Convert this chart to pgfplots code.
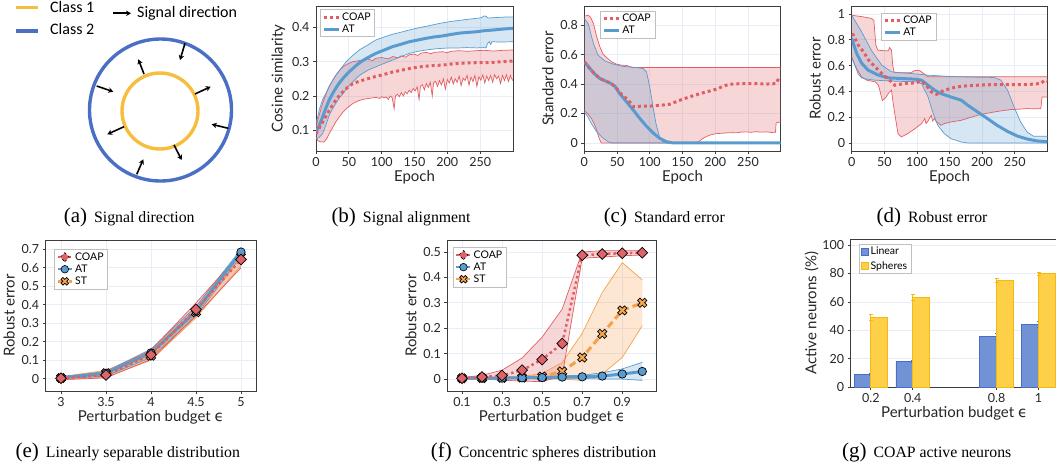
\documentclass[border=0pt]{standalone}
\usepackage{fontspec}
\setmainfont{Lato}
\newfontfamily\capfont{Liberation Serif}
\newfontfamily\carl{Carlito}
\newfontfamily\dejavu{DejaVu Sans}
\usepackage{pgfplots}
\pgfplotsset{compat=1.18}
\usepgfplotslibrary{fillbetween}
\usetikzlibrary{arrows.meta}

\definecolor{coapred}{RGB}{225,93,98}
\definecolor{atblue}{RGB}{90,155,207}
\definecolor{storange}{RGB}{247,160,75}
\definecolor{coapmk}{RGB}{222,100,106}
\definecolor{atmk}{RGB}{90,155,210}
\definecolor{stmk}{RGB}{247,165,80}
\definecolor{linfill}{RGB}{114,146,214}
\definecolor{linedge}{RGB}{70,110,200}
\definecolor{sphfill}{RGB}{253,208,72}
\definecolor{sphedge}{RGB}{245,185,20}
\definecolor{gridc}{RGB}{232,238,247}
\definecolor{framec}{RGB}{60,60,60}
\definecolor{yel}{RGB}{246,190,62}
\definecolor{cblue}{RGB}{74,111,196}

\newcommand{\eps}{{\dejavu ϵ}}

\pgfdeclareplotmark{fatx}{%
 \pgfpathmoveto{\pgfqpoint{0pt}{0.5\pgfplotmarksize}}%
 \pgfpathlineto{\pgfqpoint{0.5\pgfplotmarksize}{\pgfplotmarksize}}%
 \pgfpathlineto{\pgfqpoint{\pgfplotmarksize}{0.5\pgfplotmarksize}}%
 \pgfpathlineto{\pgfqpoint{0.5\pgfplotmarksize}{0pt}}%
 \pgfpathlineto{\pgfqpoint{\pgfplotmarksize}{-0.5\pgfplotmarksize}}%
 \pgfpathlineto{\pgfqpoint{0.5\pgfplotmarksize}{-\pgfplotmarksize}}%
 \pgfpathlineto{\pgfqpoint{0pt}{-0.5\pgfplotmarksize}}%
 \pgfpathlineto{\pgfqpoint{-0.5\pgfplotmarksize}{-\pgfplotmarksize}}%
 \pgfpathlineto{\pgfqpoint{-\pgfplotmarksize}{-0.5\pgfplotmarksize}}%
 \pgfpathlineto{\pgfqpoint{-0.5\pgfplotmarksize}{0pt}}%
 \pgfpathlineto{\pgfqpoint{-\pgfplotmarksize}{0.5\pgfplotmarksize}}%
 \pgfpathlineto{\pgfqpoint{-0.5\pgfplotmarksize}{\pgfplotmarksize}}%
 \pgfpathclose
 \pgfusepathqfillstroke}

\pgfplotsset{
 base/.style={scale only axis, anchor=south west,
   axis line style={draw=framec,line width=0.9pt},
   tick style={draw=framec,line width=0.7pt},
   tick align=outside, major tick length=3pt,
   xtick pos=bottom, ytick pos=left,
   major grid style={draw=gridc,line width=0.8pt},
   ticklabel style={font=\fontsize{12.5}{13}\selectfont, text=black!85},
   label style={font=\fontsize{15}{16}\selectfont, text=black!85},
   xlabel shift=-3pt,
   /pgf/number format/assume math mode=true,
   legend style={font=\fontsize{10.5}{11}\selectfont, draw=black!25, line width=0.5pt,
     inner xsep=2pt, inner ysep=1pt, row sep=-1pt, anchor=north west},
   legend cell align=left},
 band/.style={line width=0.7pt, forget plot},
 coapmean/.style={coapred, line width=3pt, dash pattern=on 3pt off 3pt,
   legend image code/.code={\draw[coapred, line width=3pt, dash pattern=on 3pt off 3pt] (0pt,0pt) -- (15pt,0pt);}},
 atmean/.style={atblue, line width=3pt,
   legend image code/.code={\draw[atblue, line width=3pt] (0pt,0pt) -- (15pt,0pt);}},
 coapm/.style={coapred, line width=2.5pt, dash pattern=on 2.5pt off 3pt,
   mark=square*, mark size=3.8pt, mark options={rotate=45, fill=coapmk, draw=black, line width=0.7pt, solid},
   legend image code/.code={\draw[coapred, line width=2.5pt] (0pt,0pt) -- (14pt,0pt); \draw[fill=coapmk, draw=black, line width=0.6pt] (7pt,-4.5pt) -- (11.5pt,0pt) -- (7pt,4.5pt) -- (2.5pt,0pt) -- cycle;}},
 atm/.style={atblue, line width=3pt, mark=*, mark size=4.2pt, mark options={fill=atmk, draw=black, line width=0.7pt, solid},
   legend image code/.code={\draw[atblue, line width=2.5pt] (0pt,0pt) -- (14pt,0pt); \draw[fill=atmk, draw=black, line width=0.6pt] (7pt,0pt) circle (3.8pt);}},
 stm/.style={storange, line width=3pt, dash pattern=on 7pt off 4pt, mark=fatx, mark size=4.6pt, mark options={fill=stmk, draw=black, line width=0.7pt, solid},
   legend image code/.code={\draw[storange, line width=2.5pt] (0pt,0pt) -- (14pt,0pt); \pgfplotsset{mark size=3.8pt}\draw[fill=stmk, draw=black, line width=0.6pt, shift={(7pt,0pt)}] plot[mark=fatx] coordinates {(0pt,0pt)};}},
}

\newcommand{\subcap}[4]{\node[anchor=base, inner sep=0pt] at (#1pt,#2pt) {\capfont\fontsize{21}{21}\selectfont(#3)\hspace{7pt}\fontsize{15.8}{16}\selectfont #4};}

\begin{document}
\begin{tikzpicture}

% ---------------- (a) schematic ----------------
\draw[yel, line width=3.5pt] (16pt,459.7pt) -- (38pt,459.7pt);
\draw[cblue, line width=3.5pt] (16pt,436pt) -- (38pt,436pt);
\node[anchor=base west, inner sep=0pt] at (50pt,454.3pt) {\carl\fontsize{16}{16}\selectfont Class 1};
\node[anchor=base west, inner sep=0pt] at (50pt,432.7pt) {\carl\fontsize{16}{16}\selectfont Class 2};
\draw[-{Stealth[length=5pt,width=5.5pt]}, line width=1.6pt] (113pt,453.7pt) -- (131pt,453.7pt);
\node[anchor=base west, inner sep=0pt] at (137pt,449.3pt) {\carl\fontsize{16}{16}\selectfont Signal direction};
\draw[cblue, line width=3.4pt] (160.5pt,357pt) circle (71pt);
\draw[yel, line width=3.4pt] (160pt,356pt) circle (38pt);
\begin{scope}[-{Stealth[length=5pt,width=5.5pt]}, line width=1.6pt]
\draw (185pt,423.7pt) -- (180pt,407pt);
\draw (144pt,393pt) -- (138.3pt,407.7pt);
\draw (96.7pt,381pt) -- (113.3pt,375.3pt);
\draw (195pt,373pt) -- (210.7pt,380.3pt);
\draw (228.3pt,338.7pt) -- (211.7pt,342.7pt);
\draw (124pt,340.3pt) -- (107.3pt,332.7pt);
\draw (174pt,322pt) -- (181.7pt,307pt);
\draw (136.7pt,292.7pt) -- (143.3pt,307.7pt);
\end{scope}

% ---------------- (b) ----------------
\begin{axis}[base, at={(316pt,316pt)}, width=197pt, height=145pt,
  xmin=0, xmax=300, ymin=0.04, ymax=0.462, grid=major,
  xtick={0,50,100,150,200,250}, ytick={0.1,0.2,0.3,0.4},
  xlabel={Epoch}, ylabel={Cosine similarity},
  legend style={at={(0.02,0.977)}}, reverse legend]
\addplot[band, coapred, name path=cu] coordinates {(0,0.11) (5,0.145) (10,0.178) (15,0.205) (20,0.227) (25,0.245) (30,0.26) (35,0.273) (41,0.285) (48,0.293) (56,0.3) (63,0.302) (71,0.305) (80,0.307) (86,0.303) (91,0.31) (100,0.312) (110,0.308) (117,0.315) (125,0.311) (130,0.317) (136,0.313) (142,0.32) (150,0.322) (155,0.318) (160,0.325) (168,0.327) (175,0.323) (180,0.327) (193,0.329) (200,0.326) (205,0.33) (218,0.332) (230,0.33) (244,0.332) (256,0.333) (270,0.331) (285,0.333) (300,0.334)};
\addplot[band, coapred, name path=cl] coordinates {(0,0.08) (3,0.07) (6,0.067) (12,0.066) (16,0.075) (20,0.09) (25,0.107) (30,0.124) (35,0.138) (41,0.153) (48,0.166) (56,0.178) (63,0.185) (71,0.19) (80,0.193) (91,0.196) (97,0.193) (100,0.198) (104,0.195) (107,0.197) (110,0.19) (113,0.2) (116,0.195) (119,0.163) (121,0.2) (124,0.205) (127,0.198) (130,0.21) (133,0.2) (136,0.212) (139,0.207) (142,0.217) (145,0.21) (148,0.222) (151,0.215) (154,0.227) (157,0.19) (159,0.228) (162,0.233) (165,0.218) (168,0.236) (171,0.225) (174,0.24) (177,0.2) (179,0.238) (182,0.243) (185,0.228) (188,0.245) (191,0.232) (194,0.25) (197,0.22) (200,0.248) (203,0.238) (206,0.255) (209,0.235) (212,0.25) (215,0.24) (218,0.258) (221,0.23) (224,0.252) (227,0.245) (230,0.26) (233,0.232) (236,0.255) (239,0.242) (242,0.26) (245,0.228) (248,0.256) (251,0.246) (254,0.262) (257,0.238) (260,0.258) (263,0.245) (266,0.26) (269,0.24) (272,0.262) (275,0.25) (278,0.258) (281,0.236) (284,0.26) (287,0.245) (290,0.262) (293,0.242) (296,0.26) (298,0.25) (300,0.245)};
\addplot[band, atblue, name path=au] coordinates {(0,0.12) (2.5,0.139) (5,0.16) (10,0.19) (15,0.207) (20,0.228) (30,0.26) (40,0.285) (46,0.30) (56,0.318) (66,0.334) (80,0.35) (91,0.363) (104,0.372) (117,0.38) (130,0.386) (142,0.392) (155,0.398) (168,0.403) (180,0.408) (193,0.413) (205,0.417) (218,0.42) (230,0.423) (244,0.426) (252,0.428) (256,0.433) (259,0.432) (262,0.427) (270,0.428) (280,0.429) (290,0.43) (300,0.43)};
\addplot[band, atblue, name path=al] coordinates {(0,0.075) (5,0.08) (10,0.09) (15,0.115) (20,0.143) (25,0.162) (30,0.178) (35,0.193) (41,0.207) (48,0.225) (56,0.241) (63,0.255) (71,0.266) (80,0.276) (91,0.285) (104,0.295) (117,0.305) (130,0.315) (142,0.324) (155,0.33) (168,0.334) (180,0.337) (193,0.339) (205,0.34) (218,0.34) (230,0.341) (245,0.34) (255,0.341) (259,0.34) (261,0.352) (264,0.358) (266,0.35) (268,0.358) (280,0.357) (300,0.358)};
\addplot[coapred, fill opacity=0.25, draw=none, forget plot] fill between[of=cu and cl];
\addplot[atblue, fill opacity=0.25, draw=none, forget plot] fill between[of=au and al];
\addplot[atmean] coordinates {(0,0.095) (5,0.115) (10,0.139) (15,0.165) (20,0.188) (25,0.206) (30,0.222) (35,0.237) (41,0.251) (48,0.266) (56,0.28) (63,0.292) (71,0.303) (80,0.313) (91,0.324) (104,0.334) (117,0.344) (130,0.351) (142,0.358) (155,0.363) (168,0.368) (180,0.372) (193,0.375) (205,0.379) (218,0.383) (230,0.385) (244,0.387) (256,0.39) (269,0.392) (285,0.395) (300,0.397)};
\addlegendentry{AT}
\addplot[coapmean] coordinates {(0,0.09) (5,0.107) (10,0.124) (15,0.141) (20,0.158) (25,0.173) (30,0.188) (35,0.2) (41,0.212) (48,0.225) (56,0.236) (63,0.241) (71,0.246) (80,0.251) (91,0.257) (104,0.263) (117,0.27) (130,0.275) (142,0.28) (155,0.284) (168,0.287) (180,0.289) (193,0.29) (205,0.293) (218,0.295) (230,0.296) (244,0.297) (256,0.297) (269,0.298) (285,0.3) (300,0.302)};
\addlegendentry{COAP}
\end{axis}

% ---------------- (c) ----------------
\begin{axis}[base, at={(584.3pt,316pt)}, width=196.4pt, height=145pt,
  xmin=0, xmax=300, ymin=-0.055, ymax=0.93, grid=major,
  xtick={0,50,100,150,200,250}, ytick={0,0.2,0.4,0.6,0.8},
  xlabel={Epoch}, ylabel={Standard error},
  legend style={at={(0.08,0.968)}}, reverse legend]
\addplot[band, coapred, name path=cu] coordinates {(0,0.86) (6,0.868) (10,0.85) (14,0.81) (19,0.72) (24,0.65) (29,0.6) (34,0.58) (42,0.55) (49,0.535) (57,0.528) (65,0.526) (70,0.517) (75,0.512) (300,0.512)};
\addplot[band, coapred, name path=cl] coordinates {(0,0.218) (5,0.2) (11,0.165) (15,0.13) (19,0.086) (22,0.04) (24,0.018) (26,0) (171,0) (176,0.012) (181,0.03) (186,0.042) (191,0.052) (196,0.058) (202,0.063) (212,0.066) (222,0.07) (232,0.068) (240,0.074) (247,0.075) (255,0.072) (262,0.076) (270,0.073) (278,0.075) (286,0.071) (292,0.072) (293,0.136) (300,0.143)};
\addplot[band, atblue, name path=au] coordinates {(0,0.845) (6,0.81) (10,0.74) (14,0.675) (21,0.596) (31.5,0.557) (44,0.535) (59,0.52) (80,0.512) (90,0.505) (95,0.483) (100,0.38) (105,0.245) (110,0.12) (115,0.04) (120,0.007) (125,0) (300,0)};
\addplot[band, atblue, name path=al] coordinates {(0,0.21) (5,0.18) (11,0.13) (19,0.075) (29,0.03) (37,0.007) (42,0) (300,0)};
\addplot[coapred, fill opacity=0.25, draw=none, forget plot] fill between[of=cu and cl];
\addplot[atblue, fill opacity=0.25, draw=none, forget plot] fill between[of=au and al];
\addplot[atmean] coordinates {(0,0.55) (4,0.53) (8.6,0.505) (16,0.467) (24,0.437) (31.5,0.422) (39,0.408) (46.7,0.385) (54,0.335) (64.5,0.279) (75,0.222) (85,0.165) (95,0.113) (105,0.068) (115,0.032) (125,0.009) (135,0) (300,0)};
\addlegendentry{AT}
\addplot[coapmean] coordinates {(0,0.55) (4,0.53) (8.6,0.505) (16,0.467) (24,0.437) (31.5,0.422) (39,0.408) (46.7,0.385) (52,0.355) (57,0.33) (64.5,0.30) (70,0.275) (75,0.245) (85,0.249) (100,0.25) (115,0.255) (130,0.262) (146,0.29) (161,0.313) (181,0.34) (202,0.365) (212,0.385) (222,0.399) (240,0.403) (260,0.403) (280,0.40) (293,0.403) (297,0.44) (300,0.44)};
\addlegendentry{COAP}
\end{axis}

% ---------------- (d) ----------------
\begin{axis}[base, at={(851.7pt,316pt)}, width=195.6pt, height=145pt,
  xmin=0, xmax=300, ymin=-0.062, ymax=1.062, grid=major,
  xtick={0,50,100,150,200,250}, ytick={0,0.2,0.4,0.6,0.8,1},
  xlabel={Epoch}, ylabel={Robust error},
  legend style={at={(0.15,0.954)}}, reverse legend]
\addplot[band, coapred, name path=cu] coordinates {(0,0.99) (15,0.98) (30,0.966) (34,0.95) (37,0.76) (40,0.72) (50,0.715) (56,0.715) (58,0.74) (61,0.72) (63,0.6) (65,0.55) (66,0.544) (91,0.544) (96,0.56) (102,0.565) (106,0.555) (110,0.54) (117,0.513) (300,0.513)};
\addplot[band, coapred, name path=cl] coordinates {(0,0.67) (5,0.6) (15,0.513) (23,0.487) (36,0.474) (41,0.448) (45,0.37) (47,0.33) (52,0.35) (56,0.383) (61,0.41) (63,0.33) (66,0.228) (71,0.073) (76,0.047) (86,0.073) (97,0.111) (107,0.15) (112,0.189) (114,0.15) (117,0.17) (122,0.215) (124,0.17) (127,0.19) (129,0.17) (137,0.137) (142,0.15) (152,0.163) (168,0.176) (180,0.195) (193,0.215) (205,0.228) (218,0.24) (230,0.25) (244,0.259) (256,0.262) (269,0.267) (280,0.265) (290,0.267) (292,0.357) (300,0.357)};
\addplot[band, atblue, name path=au] coordinates {(0,0.99) (15,0.863) (30,0.72) (46,0.604) (61,0.552) (76,0.544) (102,0.534) (117,0.526) (142,0.518) (168,0.513) (193,0.51) (218,0.508) (229,0.487) (239,0.41) (249,0.28) (259,0.163) (269,0.085) (279,0.052) (300,0.052)};
\addplot[band, atblue, name path=al] coordinates {(0,0.66) (5,0.6) (10,0.534) (15,0.505) (23,0.495) (36,0.487) (66,0.479) (97,0.475) (107,0.461) (117,0.357) (125,0.228) (132,0.137) (142,0.073) (152,0.034) (168,0.008) (178,0) (300,0)};
\addplot[coapred, fill opacity=0.25, draw=none, forget plot] fill between[of=cu and cl];
\addplot[atblue, fill opacity=0.25, draw=none, forget plot] fill between[of=au and al];
\addplot[atmean] coordinates {(0,0.81) (7.6,0.694) (15,0.62) (25,0.565) (41,0.526) (56,0.505) (76,0.50) (97,0.495) (107,0.487) (117,0.448) (127,0.41) (137,0.383) (152,0.357) (168,0.332) (178,0.293) (193,0.241) (208,0.19) (223,0.137) (239,0.09) (254,0.054) (269,0.031) (284,0.016) (300,0.01)};
\addlegendentry{AT}
\addplot[coapmean] coordinates {(0,0.845) (2.5,0.837) (10,0.759) (18,0.707) (26,0.642) (36,0.59) (47,0.534) (58,0.487) (66,0.448) (81,0.461) (97,0.466) (107,0.479) (114,0.448) (122,0.396) (130,0.378) (142,0.409) (157,0.43) (168,0.44) (193,0.448) (218,0.453) (244,0.453) (269,0.453) (290,0.461) (296,0.487) (300,0.48)};
\addlegendentry{COAP}
\end{axis}

% ---------------- (e) ----------------
\begin{axis}[base, at={(45.7pt,76pt)}, width=210.3pt, height=151pt,
  xmin=2.83, xmax=5.167, ymin=-0.066, ymax=0.75, grid=major,
  xtick={3,3.5,4,4.5,5}, ytick={0,0.1,0.2,0.3,0.4,0.5,0.6,0.7},
  xlabel={Perturbation budget \eps}, ylabel={Robust error},
  legend style={at={(0.041,0.938)}}, reverse legend]
\addplot[band, storange, name path=su] coordinates {(3,0.012) (3.5,0.045) (4,0.15) (4.5,0.39) (5,0.69)};
\addplot[band, storange, name path=sl] coordinates {(3,-0.005) (3.5,0.01) (4,0.1) (4.5,0.33) (5,0.61)};
\addplot[band, atblue, name path=au] coordinates {(3,0.01) (3.5,0.04) (4,0.16) (4.5,0.39) (5,0.70)};
\addplot[band, atblue, name path=al] coordinates {(3,0) (3.5,0.015) (4,0.115) (4.5,0.34) (5,0.66)};
\addplot[band, coapred, name path=cu] coordinates {(3,0.01) (3.5,0.035) (4,0.155) (4.5,0.41) (5,0.68)};
\addplot[band, coapred, name path=cl] coordinates {(3,-0.005) (3.5,0.005) (4,0.105) (4.5,0.34) (5,0.60)};
\addplot[storange, fill opacity=0.25, draw=none, forget plot] fill between[of=su and sl];
\addplot[atblue, fill opacity=0.25, draw=none, forget plot] fill between[of=au and al];
\addplot[coapred, fill opacity=0.25, draw=none, forget plot] fill between[of=cu and cl];
\addplot[stm] coordinates {(3,0.004) (3.5,0.03) (4,0.125) (4.5,0.36) (5,0.66)};
\addlegendentry{ST}
\addplot[atm] coordinates {(3,0.005) (3.5,0.03) (4,0.14) (4.5,0.365) (5,0.685)};
\addlegendentry{AT}
\addplot[coapm] coordinates {(3,0.003) (3.5,0.02) (4,0.13) (4.5,0.375) (5,0.645)};
\addlegendentry{COAP}
\end{axis}

% ---------------- (f) ----------------
\begin{axis}[base, at={(447.3pt,75.7pt)}, width=209.4pt, height=151.3pt,
  xmin=0.0266, xmax=1.072, ymin=-0.048, ymax=0.547, grid=major,
  xtick={0.1,0.3,0.5,0.7,0.9}, ytick={0,0.1,0.2,0.3,0.4,0.5},
  xticklabel style={/pgf/number format/.cd, fixed, precision=1, fixed zerofill},
  xlabel={Perturbation budget \eps}, ylabel={Robust error},
  legend style={at={(0.027,0.952)}}, reverse legend]
\addplot[band, storange, name path=su] coordinates {(0.1,0.005) (0.2,0.006) (0.3,0.008) (0.4,0.01) (0.5,0.022) (0.6,0.065) (0.7,0.18) (0.8,0.34) (0.9,0.458) (1.0,0.39)};
\addplot[band, storange, name path=sl] coordinates {(0.1,0) (0.2,0.002) (0.3,0.002) (0.4,0.002) (0.5,0) (0.6,0) (0.7,-0.005) (0.8,0.02) (0.9,0.085) (1.0,0.21)};
\addplot[band, atblue, name path=au] coordinates {(0.1,0.006) (0.2,0.007) (0.3,0.008) (0.4,0.009) (0.5,0.011) (0.6,0.013) (0.7,0.015) (0.8,0.025) (0.9,0.04) (1.0,0.066)};
\addplot[band, atblue, name path=al] coordinates {(0.1,0) (0.2,0.001) (0.3,0.001) (0.4,0.002) (0.5,0.002) (0.6,0.003) (0.7,0.003) (0.8,0) (0.9,0) (1.0,-0.005)};
\addplot[band, coapred, name path=cu] coordinates {(0.1,0.006) (0.2,0.015) (0.3,0.035) (0.4,0.083) (0.5,0.165) (0.6,0.275) (0.7,0.5) (0.8,0.505) (0.9,0.505) (1.0,0.505)};
\addplot[band, coapred, name path=cl] coordinates {(0.1,0) (0.2,0) (0.3,-0.004) (0.4,-0.008) (0.5,-0.01) (0.6,0.012) (0.7,0.475) (0.8,0.48) (0.9,0.485) (1.0,0.488)};
\addplot[storange, fill opacity=0.25, draw=none, forget plot] fill between[of=su and sl];
\addplot[atblue, fill opacity=0.25, draw=none, forget plot] fill between[of=au and al];
\addplot[coapred, fill opacity=0.25, draw=none, forget plot] fill between[of=cu and cl];
\addplot[stm] coordinates {(0.1,0.003) (0.2,0.004) (0.3,0.005) (0.4,0.006) (0.5,0.01) (0.6,0.03) (0.7,0.085) (0.8,0.178) (0.9,0.27) (1.0,0.30)};
\addlegendentry{ST}
\addplot[atm] coordinates {(0.1,0.003) (0.2,0.004) (0.3,0.004) (0.4,0.005) (0.5,0.006) (0.6,0.008) (0.7,0.009) (0.8,0.012) (0.9,0.02) (1.0,0.03)};
\addlegendentry{AT}
\addplot[coapm] coordinates {(0.1,0.003) (0.2,0.008) (0.3,0.014) (0.4,0.035) (0.5,0.077) (0.6,0.14) (0.7,0.487) (0.8,0.492) (0.9,0.495) (1.0,0.497)};
\addlegendentry{COAP}
\end{axis}

% ---------------- (g) ----------------
\begin{axis}[base, at={(850.7pt,79.7pt)}, width=207pt, height=148pt,
  xmin=0.104, xmax=1.0915, ymin=0, ymax=104, ymajorgrids,
  xtick={0.2,0.4,0.8,1}, xticklabels={0.2,0.4,0.8,1}, ytick={0,20,40,60,80,100},
  xlabel={Perturbation budget \eps}, ylabel={Active neurons (\%)}, ylabel shift=-3pt,
  legend style={at={(0.039,0.968)}, row sep=1pt}]
\addplot[ybar, bar width=0.08, bar shift=-0.04, fill=linfill, draw=linedge, line width=0.8pt,
  legend image code/.code={\draw[fill=linfill, draw=linedge, line width=0.6pt] (0pt,-3.5pt) rectangle (7pt,3.5pt);},
  error bars/.cd, y dir=both, y explicit, error bar style={linedge, line width=0.8pt},
  error mark options={rotate=90, mark size=2pt, linedge, line width=0.8pt}]
  coordinates {(0.2,9) +- (0,0.8) (0.4,18.2) +- (0,1) (0.8,35.8) +- (0,1.8) (1,44.2) +- (0,2)};
\addlegendentry{Linear}
\addplot[ybar, bar width=0.08, bar shift=0.04, fill=sphfill, draw=sphedge, line width=0.8pt,
  legend image code/.code={\draw[fill=sphfill, draw=sphedge, line width=0.6pt] (0pt,-3.5pt) rectangle (7pt,3.5pt);},
  error bars/.cd, y dir=both, y explicit, error bar style={sphedge, line width=0.8pt},
  error mark options={rotate=90, mark size=2pt, sphedge, line width=0.8pt}]
  coordinates {(0.2,49) +- (0,2) (0.4,63) +- (0,2) (0.8,75) +- (0,1.4) (1,79.8) +- (0,1)};
\addlegendentry{Spheres}
\end{axis}

% ---------------- captions ----------------
\subcap{129.2}{244.3}{a}{Signal direction}
\subcap{401}{244.3}{b}{Signal alignment}
\subcap{664.3}{244.3}{c}{Standard error}
\subcap{932}{244.3}{d}{Robust error}
\subcap{127.8}{10}{e}{Linearly separable distribution}
\subcap{543.5}{10}{f}{Concentric spheres distribution}
\subcap{926.7}{10}{g}{COAP active neurons}

\pgfresetboundingbox
\useasboundingbox (0pt,0pt) rectangle (1056pt,467pt);
\end{tikzpicture}
\end{document}
